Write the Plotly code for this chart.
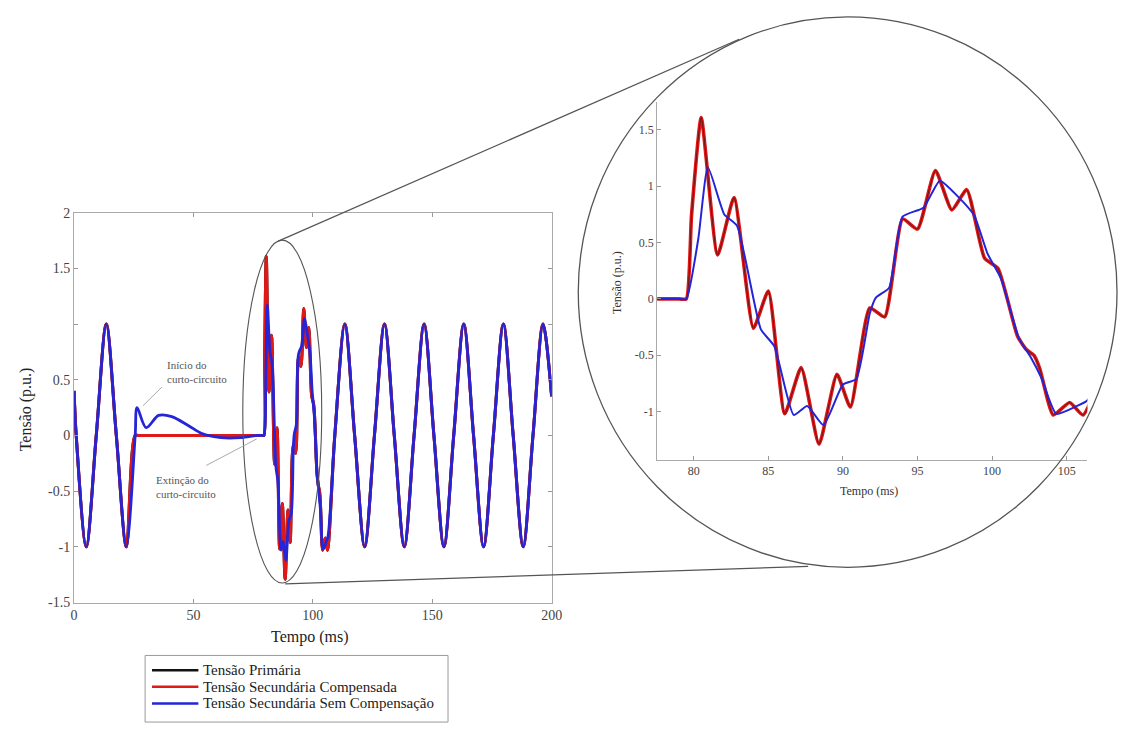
import plotly.graph_objects as go

W, H = 1129, 733

# ---------------- samples: time in ms, voltage in p.u. ----------------
# steady state before the fault (the three signals coincide)
t_pre = [0.0, 0.9, 5.1, 9.3, 13.5, 17.7, 21.9]
v_pre = [0.40, 0.0, -1.0, 0.0, 1.0, 0.0, -1.0]

# during the short circuit: primary / compensated voltage collapses to zero
t_fault_prim = [25.6, 27.0, 50.0, 79.0, 79.5]
v_fault_prim = [0.0, 0.0, 0.0, 0.0, 0.0]

# during the short circuit: uncompensated secondary shows a decaying transient
t_fault_unc = [25.6, 26.4, 30.2, 35.4, 40.9, 47.8, 53.3, 61.6, 69.8, 76.7, 79.0, 79.5]
v_fault_unc = [0.0, 0.25, 0.07, 0.18, 0.17, 0.09, 0.02, -0.02, -0.02, 0.0, 0.0, 0.0]

# recovery transient after the fault is cleared
t_rec_comp = [79.85, 80.5, 81.6, 82.7, 84.0, 85.0, 86.1, 87.2, 88.4, 89.6,
              90.5, 91.8, 92.8, 94.0, 95.0, 96.2, 97.3, 98.3, 99.5, 100.4,
              101.7, 102.3, 102.8, 103.2, 104.1, 105.2, 106.1]
v_rec_comp = [0.74, 1.61, 0.39, 0.90, -0.26, 0.07, -1.02, -0.61, -1.29, -0.67,
              -0.96, -0.08, -0.16, 0.71, 0.62, 1.14, 0.79, 0.97, 0.36, 0.27,
              -0.33, -0.45, -0.50, -0.62, -1.03, -0.92, -1.03]
t_rec_unc = [80.3, 80.95, 82.05, 82.9, 84.5, 85.4, 86.7, 87.6, 88.7, 90.0,
             90.9, 91.8, 92.2, 93.1, 94.0, 95.4, 96.5, 97.7, 98.8, 99.7,
             100.6, 101.8, 102.6, 103.3, 104.3, 105.7, 106.4]
v_rec_unc = [0.53, 1.17, 0.75, 0.65, -0.27, -0.42, -1.03, -0.95, -1.12, -0.76,
             -0.71, -0.13, 0.01, 0.10, 0.73, 0.81, 1.05, 0.91, 0.74, 0.40,
             0.18, -0.35, -0.52, -0.70, -1.02, -0.95, -0.90]

# steady state after recovery
t_post = [109.2, 113.4, 117.5, 121.7, 125.8, 130.0, 134.1, 138.3, 142.4, 146.6,
          150.7, 154.9, 159.0, 163.2, 167.3, 171.5, 175.6, 179.8, 183.9, 188.1,
          192.2, 196.4, 200.0]
v_post = [0.0, 1.0, 0.0, -1.0, 0.0, 1.0, 0.0, -1.0, 0.0, 1.0,
          0.0, -1.0, 0.0, 1.0, 0.0, -1.0, 0.0, 1.0, 0.0, -1.0,
          0.0, 1.0, 0.35]

series_names = ["Tensão Primária",
                "Tensão Secundária Compensada",
                "Tensão Secundária Sem Compensação"]

main_xticks = [0, 50, 100, 150, 200]
main_yticks = [-1.5, -1, -0.5, 0, 0.5, 1, 1.5, 2]
main_ytext = ["-1.5", "-1", "-0.5", "0", "0.5", "", "1.5", "2"]
zoom_xticks = [80, 85, 90, 95, 100, 105]
zoom_yticks = [-1, -0.5, 0, 0.5, 1, 1.5]
zoom_ytext = ["-1", "-0.5", "0", "0.5", "1", "1.5"]

# ---------------- assemble the three signals ----------------
t_prim = t_pre + t_fault_prim + t_rec_comp + t_post
v_prim = v_pre + v_fault_prim + v_rec_comp + v_post
t_comp = list(t_prim)
v_comp = list(v_prim)
t_unc = t_pre + t_fault_unc + t_rec_unc + t_post
v_unc = v_pre + v_fault_unc + v_rec_unc + v_post

BLACK = "#111111"
RED = "#e01818"
BLUE = "#2424d8"
SERIF = "Liberation Serif"


def px(x):
    return x / W


def py(y):
    return 1 - y / H


fig = go.Figure()

# main panel (drawn order: primary, compensated, uncompensated)
main_specs = [
    (t_prim, v_prim, BLACK, 3.0, series_names[0]),
    (t_comp, v_comp, RED, 3.0, series_names[1]),
    (t_unc, v_unc, BLUE, 2.8, series_names[2]),
]
for t, v, c, w, n in main_specs:
    fig.add_trace(go.Scatter(x=t, y=v, mode="lines", name=n,
                             line=dict(color=c, width=w, shape="spline", smoothing=0.9),
                             xaxis="x", yaxis="y", showlegend=False))

# zoomed panel
zoom_specs = [
    (t_comp, v_comp, RED, 3.6, 1.0),
    (t_prim, v_prim, BLACK, 1.0, 0.55),
    (t_unc, v_unc, BLUE, 2.0, 1.0),
]
for t, v, c, w, op in zoom_specs:
    fig.add_trace(go.Scatter(x=t, y=v, mode="lines", opacity=op,
                             line=dict(color=c, width=w, shape="spline", smoothing=0.5),
                             xaxis="x2", yaxis="y2", showlegend=False))

axis_common = dict(showgrid=False, zeroline=False, showline=True,
                   ticks="inside", ticklen=4, tickcolor="#999999")

fig.update_layout(
    width=W, height=H, autosize=False,
    margin=dict(l=0, r=0, t=0, b=0),
    paper_bgcolor="white", plot_bgcolor="white",
    font=dict(family=SERIF, color="#333333"),
    showlegend=False,
    xaxis=dict(domain=[px(71), px(555)], range=[0, 200], anchor="y",
               tickvals=main_xticks, mirror="ticks", linecolor="#aaaaaa",
               tickfont=dict(family=SERIF, size=14, color="#444444"),
               **axis_common),
    yaxis=dict(domain=[py(608), py(210)], range=[-1.5, 2], anchor="x",
               tickvals=main_yticks, ticktext=main_ytext, mirror="ticks",
               linecolor="#aaaaaa",
               tickfont=dict(family=SERIF, size=14, color="#444444"),
               **axis_common),
    xaxis2=dict(domain=[px(662), px(1098)], range=[77.55, 106.39], anchor="y2",
                tickvals=zoom_xticks, linecolor="#aaaaaa",
                tickfont=dict(family=SERIF, size=12, color="#444444"),
                **axis_common),
    yaxis2=dict(domain=[py(462), py(97)], range=[-1.426, 1.748], anchor="x2",
                tickvals=zoom_yticks, ticktext=zoom_ytext, linecolor="#aaaaaa",
                tickfont=dict(family=SERIF, size=12, color="#444444"),
                **axis_common),
)

# magnifier outline: ellipse on the main panel, circle around the zoom, and connectors
shapes = [
    dict(type="circle", xref="paper", yref="paper",
         x0=px(582), x1=px(1128), y0=py(572), y1=py(10),
         line=dict(color="#555555", width=1.3)),
    dict(type="circle", xref="paper", yref="paper",
         x0=px(242), x1=px(322), y0=py(588), y1=py(238),
         line=dict(color="#555555", width=1.1)),
    dict(type="line", xref="paper", yref="paper",
         x0=px(278), y0=py(239), x1=px(745), y1=py(33),
         line=dict(color="#555555", width=1.2)),
    dict(type="line", xref="paper", yref="paper",
         x0=px(285), y0=py(589), x1=px(815), y1=py(571),
         line=dict(color="#555555", width=1.2)),
    dict(type="line", xref="paper", yref="paper",
         x0=px(160), y0=py(388), x1=px(141), y1=py(407),
         line=dict(color="#aaaaaa", width=1)),
    dict(type="line", xref="paper", yref="paper",
         x0=px(205), y0=py(468), x1=px(256), y1=py(441),
         line=dict(color="#aaaaaa", width=1)),
    # legend frame
    dict(type="rect", xref="paper", yref="paper",
         x0=px(143), x1=px(450), y0=py(730), y1=py(662),
         line=dict(color="#999999", width=1), fillcolor="white", layer="below"),
]

annotations = [
    dict(text="Início do<br>curto-circuito", x=px(163), y=py(357),
         xanchor="left", yanchor="top", align="left",
         font=dict(family=SERIF, size=11, color="#555555")),
    dict(text="Extinção do<br>curto-circuito", x=px(152), y=py(475),
         xanchor="left", yanchor="top", align="left",
         font=dict(family=SERIF, size=11, color="#555555")),
    dict(text="Tempo (ms)", x=px(310), y=py(643), xanchor="center", yanchor="middle",
         font=dict(family=SERIF, size=16, color="#222222")),
    dict(text="Tensão (p.u.)", x=px(22), y=py(411), xanchor="center", yanchor="middle",
         textangle=-90, font=dict(family=SERIF, size=16, color="#222222")),
    dict(text="Tempo (ms)", x=px(877), y=py(494), xanchor="center", yanchor="middle",
         font=dict(family=SERIF, size=12, color="#333333")),
    dict(text="Tensão (p.u.)", x=px(622), y=py(281), xanchor="center", yanchor="middle",
         textangle=-90, font=dict(family=SERIF, size=12, color="#333333")),
]

# legend rows: line sample plus label
legend_rows = [(series_names[0], BLACK, 677), (series_names[1], RED, 694),
               (series_names[2], BLUE, 711)]
for name, color, yrow in legend_rows:
    shapes.append(dict(type="line", xref="paper", yref="paper",
                       x0=px(150), x1=px(197), y0=py(yrow), y1=py(yrow),
                       line=dict(color=color, width=2.5)))
    annotations.append(dict(text=name, x=px(200), y=py(yrow), xanchor="left",
                            yanchor="middle",
                            font=dict(family=SERIF, size=15, color="#222222")))

for a in annotations:
    a.update(xref="paper", yref="paper", showarrow=False)
fig.update_layout(shapes=shapes, annotations=annotations)

fig.write_html("out.html")
